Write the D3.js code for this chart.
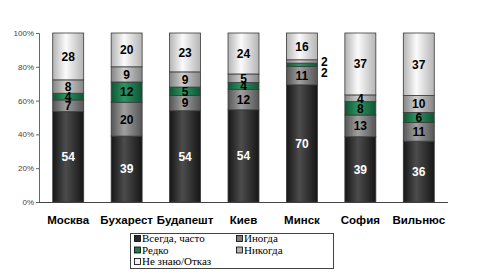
<!DOCTYPE html>
<html><head><meta charset="utf-8">
<script src="https://cdn.jsdelivr.net/npm/d3@7"></script>
<style>body{margin:0;background:#fff}svg{display:block}</style>
</head><body>
<svg id="c" width="482" height="276"></svg>
<script>
const cities = ["Москва","Бухарест","Будапешт","Киев","Минск","София","Вильнюс"];
const seriesNames = ["Всегда, часто","Иногда","Редко","Никогда","Не знаю/Отказ"];
const always = [54,39,54,54,70,39,36];
const sometimes = [7,20,9,12,11,13,11];
const rarely = [4,12,5,4,2,8,6];
const never = [8,9,9,5,2,4,10];
const dontKnow = [28,20,23,24,16,37,37];
const yTicks = [0,20,40,60,80,100];

const seriesVals = [always,sometimes,rarely,never,dontKnow];
const colors = [
  {edge:"#161616", mid:"#4c4c4c", flat:"#2a2a2a", text:"#fff"},
  {edge:"#555555", mid:"#a0a0a0", flat:"#7f7f7f", text:"#000"},
  {edge:"#0d5532", mid:"#2f9464", flat:"#1f7a4c", text:"#000"},
  {edge:"#858585", mid:"#cfcfcf", flat:"#b2b2b2", text:"#000"},
  {edge:"#b4b4b4", mid:"#fbfbfb", flat:"#f2f2f2", text:"#000"}
];

const svg = d3.select("#c");
const defs = svg.append("defs");
colors.forEach((c,i)=>{
  const g = defs.append("linearGradient").attr("id","g"+i).attr("x1","0").attr("x2","1").attr("y1","0").attr("y2","0");
  g.append("stop").attr("offset","0").attr("stop-color",c.edge);
  g.append("stop").attr("offset","0.42").attr("stop-color",c.mid);
  g.append("stop").attr("offset","1").attr("stop-color",c.edge);
});

const x = d3.scaleBand().domain(cities).range([39,448]).paddingInner(0.47).paddingOuter(0.235);
const y = d3.scaleLinear().domain([0,100]).range([202,33]);

// normalized stacks
const rows = cities.map((c,i)=>{
  const o = {city:c};
  const tot = seriesVals.reduce((s,a)=>s+a[i],0);
  seriesVals.forEach((a,k)=>{o["s"+k]=a[i]/tot*100; o["v"+k]=a[i];});
  return o;
});
const stack = d3.stack().keys(seriesVals.map((_,k)=>"s"+k))(rows);

// axes
const yAxis = d3.axisLeft(y).tickValues(yTicks).tickFormat(d=>d+"%").tickSize(3);
const ya = svg.append("g").attr("transform","translate(39,0)").call(yAxis);
ya.select(".domain").attr("stroke","#666");
ya.selectAll(".tick line").attr("stroke","#666");
ya.selectAll("text").attr("font-family","Arial, Liberation Sans, sans-serif").attr("font-size","8px").attr("fill","#444").attr("x",-5);

const xAxis = d3.axisBottom(x).tickSize(0).tickPadding(0);
const xa = svg.append("g").attr("transform","translate(0,202)").call(xAxis);
xa.select(".domain").attr("stroke","#444").attr("d","M39,0.5H448");
xa.selectAll("text").attr("font-family","Arial, Liberation Sans, sans-serif").attr("font-size","11.5px").attr("font-weight","bold").attr("fill","#000").attr("dy",null).attr("y",22);

// bars
stack.forEach((layer,k)=>{
  svg.append("g").selectAll("rect").data(layer).join("rect")
    .attr("x",d=>x(d.data.city)).attr("width",x.bandwidth())
    .attr("y",d=>y(d[1])).attr("height",d=>y(d[0])-y(d[1]))
    .attr("fill","url(#g"+k+")").attr("stroke","#3a3a3a").attr("stroke-width",0.8);
});

// labels
stack.forEach((layer,k)=>{
  svg.append("g").selectAll("text").data(layer).join("text")
    .each(function(d,i){
      const v = d.data["v"+k];
      const sel = d3.select(this);
      let cx = x(d.data.city)+x.bandwidth()/2, cy = (y(d[0])+y(d[1]))/2;
      let fill = colors[k].text;
      if (v < 3) { // outside label for tiny segments
        cx = x(d.data.city)+x.bandwidth()+7;
        cy = k===3 ? y(d[1])+1.5 : y(d[1])+9.5;
        fill = "#000";
      }
      sel.attr("x",cx).attr("y",cy).attr("dy","0.36em").text(v).attr("fill",fill);
    })
    .attr("text-anchor","middle")
    .attr("font-family","Arial, Liberation Sans, sans-serif").attr("font-size","12px").attr("font-weight","bold");
});

// legend
const lg = svg.append("g");
lg.append("rect").attr("x",130.5).attr("y",233.5).attr("width",203).attr("height",35).attr("fill","#fff").attr("stroke","#444").attr("stroke-width",1);
const lpos = [[134,242],[236,242],[134,253.5],[236,253.5],[134,265]];
seriesNames.forEach((n,k)=>{
  const [lx,ly] = lpos[k];
  lg.append("rect").attr("x",lx+0.5).attr("y",ly-6.5).attr("width",6).attr("height",6).attr("fill",colors[k].flat).attr("stroke","#000").attr("stroke-width",0.8);
  lg.append("text").attr("x",lx+8).attr("y",ly).text(n)
    .attr("font-family","Liberation Serif, Times New Roman, serif").attr("font-size","11px").attr("fill","#000");
});
</script>
</body></html>
